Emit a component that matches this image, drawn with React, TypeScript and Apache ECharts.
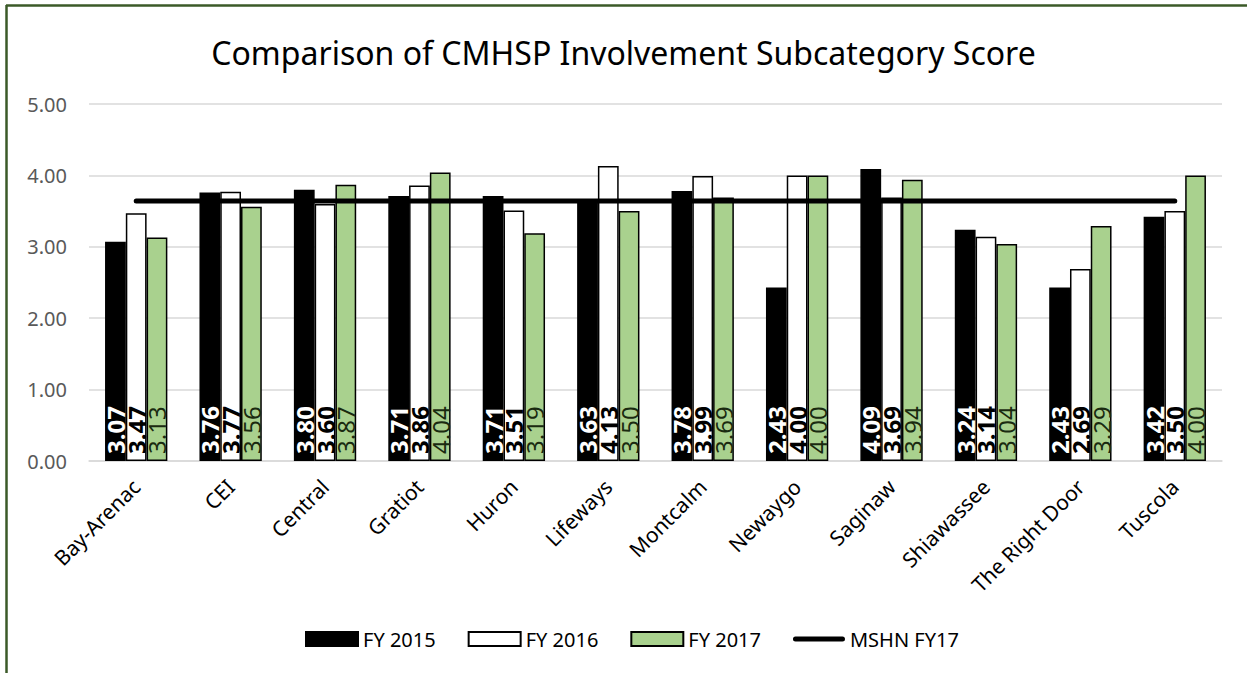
import React, { useEffect, useRef } from "react";
import * as echarts from "echarts";

const categories = ["Bay-Arenac", "CEI", "Central", "Gratiot", "Huron", "Lifeways", "Montcalm", "Newaygo", "Saginaw", "Shiawassee", "The Right Door", "Tuscola"];
const fy2015 = [3.07, 3.76, 3.8, 3.71, 3.71, 3.63, 3.78, 2.43, 4.09, 3.24, 2.43, 3.42];
const fy2016 = [3.47, 3.77, 3.6, 3.86, 3.51, 4.13, 3.99, 4.0, 3.69, 3.14, 2.69, 3.5];
const fy2017 = [3.13, 3.56, 3.87, 4.04, 3.19, 3.5, 3.69, 4.0, 3.94, 3.04, 3.29, 4.0];
const mshnFy17 = [3.64, 3.64, 3.64, 3.64, 3.64, 3.64, 3.64, 3.64, 3.64, 3.64, 3.64, 3.64];
const seriesNames = ["FY 2015", "FY 2016", "FY 2017", "MSHN FY17"];
const titleText = "Comparison of CMHSP Involvement Subcategory Score";

const FONT = "'Noto Sans', sans-serif";
const PILL = "path://M2.5,0 L49.5,0 A2.5,2.5 0 0 1 49.5,5 L2.5,5 A2.5,2.5 0 0 1 2.5,0 Z";

export default function App() {
  const ref = useRef<HTMLDivElement>(null);
  useEffect(() => {
    document.body.style.margin = "0";
    const chart = echarts.init(ref.current!, null, { renderer: "svg" });
    const labelBase = {
      show: true,
      position: "insideBottom",
      rotate: 90,
      align: "left",
      verticalAlign: "middle",
      distance: 7,
      fontFamily: FONT,
      fontSize: 24,
      formatter: (p: any) => Number(p.value).toFixed(2),
    };
    chart.setOption({
      animation: false,
      backgroundColor: "#ffffff",
      textStyle: { fontFamily: FONT },
      title: {
        text: titleText,
        left: "center",
        top: 31,
        textStyle: { fontFamily: FONT, fontSize: 32, fontWeight: "normal", color: "#000" },
      },
      graphic: [
        { type: "line", shape: { x1: 6, y1: 5.5, x2: 1247, y2: 5.5 }, style: { stroke: "#3b5a28", lineWidth: 2.5 } },
        { type: "line", shape: { x1: 6.5, y1: 5, x2: 6.5, y2: 673 }, style: { stroke: "#3b5a28", lineWidth: 2.5 } },
      ],
      legend: {
        top: 624,
        left: 300,
        itemWidth: 52,
        itemHeight: 14,
        itemGap: 32,
        icon: "rect",
        textStyle: { fontFamily: FONT, fontSize: 20, color: "#000" },
        data: [
          { name: seriesNames[0] },
          { name: seriesNames[1] },
          { name: seriesNames[2] },
          { name: seriesNames[3], icon: PILL, itemStyle: { color: "#000", borderWidth: 0 } },
        ],
      },
      grid: { left: 89, right: 25, top: 104, bottom: 212 },
      xAxis: {
        type: "category",
        data: categories,
        axisTick: { show: false },
        axisLine: { lineStyle: { color: "#d9d9d9", width: 1.5 } },
        axisLabel: { rotate: 45, fontSize: 21, color: "#000", fontFamily: FONT, margin: 22, interval: 0 },
      },
      yAxis: {
        type: "value",
        min: 0,
        max: 5,
        interval: 1,
        axisLine: { show: false },
        axisTick: { show: false },
        splitLine: { lineStyle: { color: "#d9d9d9", width: 1.5 } },
        axisLabel: { fontSize: 20, color: "#595959", fontFamily: FONT, margin: 22, formatter: (v: number) => v.toFixed(2) },
      },
      series: [
        {
          name: seriesNames[0],
          type: "bar",
          data: fy2015,
          barGap: "0%",
          barCategoryGap: "34%",
          itemStyle: { color: "#000000", borderColor: "#000000", borderWidth: 1.5 },
          label: { ...labelBase, color: "#ffffff", fontWeight: "bold" },
        },
        {
          name: seriesNames[1],
          type: "bar",
          data: fy2016,
          itemStyle: { color: "#ffffff", borderColor: "#000000", borderWidth: 1.5 },
          label: { ...labelBase, color: "#000000", fontWeight: "bold" },
        },
        {
          name: seriesNames[2],
          type: "bar",
          data: fy2017,
          itemStyle: { color: "#a9d18e", borderColor: "#000000", borderWidth: 1.5 },
          label: { ...labelBase, color: "#1a2a10", fontWeight: "normal" },
        },
        {
          name: seriesNames[3],
          type: "line",
          data: mshnFy17,
          symbol: "none",
          z: 5,
          lineStyle: { color: "#000000", width: 5, cap: "round" },
          itemStyle: { color: "#000000" },
        },
      ],
    });
    return () => chart.dispose();
  }, []);
  return <div ref={ref} style={{ width: 1247, height: 673 }} />;
}
